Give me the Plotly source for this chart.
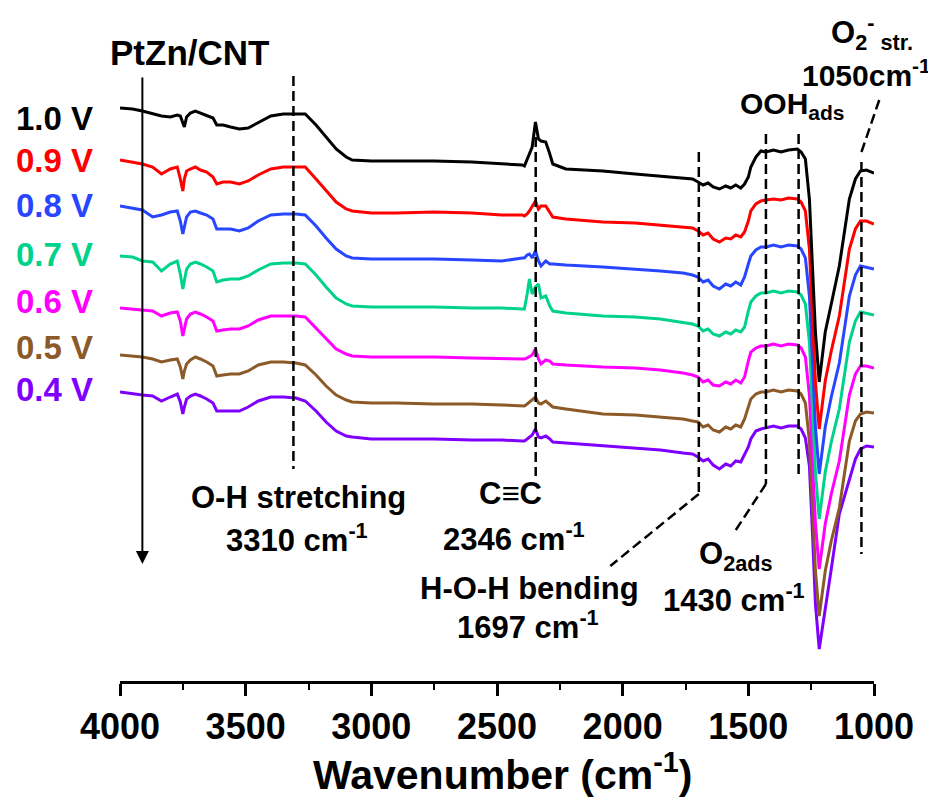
import plotly.graph_objects as go

# Wavenumber grid (cm-1)
wavenumber = [4000, 3950, 3911, 3870, 3835, 3800, 3772, 3760, 3750, 3744,
              3735, 3720, 3700, 3680, 3655, 3630, 3615, 3590, 3560, 3525,
              3490, 3450, 3400, 3350, 3300, 3263, 3220, 3180, 3140, 3100,
              3076, 3000, 2900, 2750, 2600, 2480, 2400, 2391, 2380, 2371,
              2360, 2347, 2335, 2325, 2306, 2290, 2278, 2226, 2079, 1950,
              1850, 1760, 1722, 1700, 1680, 1660, 1640, 1615, 1590, 1570,
              1550, 1530, 1515, 1500, 1490, 1470, 1450, 1430, 1400, 1370,
              1340, 1305, 1290, 1273, 1257, 1245, 1233, 1218, 1194, 1170,
              1138, 1098, 1074, 1054, 1030, 1000]

# Intensities (a.u., offset stacked)
v10 = [591, 590, 588, 585, 583, 582, 584, 583, 576, 572,
       582, 586, 588, 586, 583, 581, 574, 574, 572, 570,
       571, 576, 583, 585, 585, 585, 574, 562, 550, 542,
       539, 538, 538, 538, 537, 535, 534, 533, 540, 545,
       552, 577, 560, 558, 557, 545, 535, 530, 528, 525,
       523, 521, 520, 517, 514, 516, 512, 510, 513, 511,
       514, 511, 515, 522, 532, 542, 548, 547, 549, 547,
       549, 550, 547, 540, 500, 433, 367, 317, 367, 395,
       433, 500, 520, 528, 529, 526]
v09 = [539, 537, 535, 532, 525, 530, 532, 520, 508, 520,
       528, 530, 532, 529, 527, 522, 515, 517, 517, 515,
       518, 524, 530, 532, 532, 532, 520, 508, 497, 490,
       488, 486, 486, 487, 486, 484, 484, 483, 485, 488,
       493, 498, 490, 493, 493, 486, 482, 480, 477, 476,
       474, 472, 471, 468, 464, 466, 460, 457, 461, 460,
       464, 462, 467, 478, 488, 495, 498, 499, 500, 499,
       501, 500, 497, 488, 450, 383, 317, 270, 318, 348,
       383, 450, 470, 478, 478, 475]
v08 = [493, 491, 489, 482, 484, 487, 488, 478, 465, 472,
       482, 487, 488, 486, 484, 480, 470, 470, 470, 468,
       471, 478, 484, 485, 485, 484, 473, 461, 450, 443,
       441, 440, 440, 440, 439, 438, 441, 441, 444, 445,
       441, 448, 438, 433, 438, 435, 435, 434, 432, 430,
       428, 426, 424, 422, 417, 419, 413, 410, 415, 413,
       417, 414, 422, 435, 443, 449, 452, 452, 454, 452,
       454, 453, 450, 441, 403, 338, 272, 225, 272, 302,
       336, 403, 424, 433, 432, 430]
v07 = [443, 442, 438, 437, 428, 435, 438, 425, 410, 420,
       430, 435, 437, 435, 432, 428, 417, 419, 420, 420,
       423, 429, 435, 436, 436, 435, 424, 412, 401, 395,
       393, 392, 392, 392, 391, 391, 390, 390, 405, 420,
       405, 412, 415, 401, 403, 393, 388, 386, 383, 382,
       380, 377, 375, 373, 368, 370, 365, 363, 367, 365,
       369, 367, 372, 388, 397, 403, 406, 406, 408, 406,
       408, 407, 404, 395, 357, 292, 227, 180, 227, 257,
       290, 357, 378, 387, 386, 384]
v06 = [391, 390, 389, 388, 383, 386, 387, 378, 363, 370,
       380, 385, 387, 385, 382, 378, 368, 369, 370, 370,
       373, 379, 383, 383, 383, 382, 371, 360, 350, 345,
       343, 342, 342, 342, 341, 340, 340, 340, 341, 342,
       344, 350, 340, 335, 339, 338, 335, 334, 332, 331,
       329, 326, 324, 322, 317, 319, 314, 313, 317, 315,
       319, 316, 322, 338, 347, 351, 353, 353, 355, 353,
       355, 354, 351, 342, 304, 240, 175, 130, 175, 205,
       238, 304, 325, 333, 333, 331]
v05 = [344, 343, 342, 340, 337, 339, 340, 332, 320, 328,
       335, 339, 342, 340, 337, 333, 323, 324, 325, 325,
       328, 334, 337, 337, 336, 334, 324, 313, 304, 299,
       297, 296, 296, 295, 295, 294, 293, 293, 295, 297,
       299, 302, 296, 295, 298, 295, 292, 290, 285, 284,
       282, 280, 278, 277, 272, 274, 269, 267, 272, 270,
       274, 272, 280, 293, 300, 305, 307, 307, 309, 307,
       309, 308, 305, 296, 258, 193, 128, 83, 128, 158,
       191, 258, 278, 285, 287, 286]
v04 = [307, 305, 304, 303, 298, 302, 305, 297, 285, 292,
       300, 303, 305, 303, 300, 296, 288, 288, 288, 288,
       292, 298, 302, 302, 301, 298, 288, 277, 268, 263,
       262, 260, 260, 260, 259, 259, 258, 258, 260, 262,
       264, 270, 262, 261, 263, 260, 257, 256, 253, 251,
       249, 246, 245, 242, 238, 240, 234, 230, 235, 233,
       238, 237, 245, 252, 260, 268, 270, 271, 273, 271,
       273, 273, 270, 261, 233, 167, 95, 50, 88, 130,
       185, 220, 240, 250, 253, 252]

labels = ["1.0 V", "0.9 V", "0.8 V", "0.7 V", "0.6 V", "0.5 V", "0.4 V"]
colors = ["#000000", "#FF0000", "#2846FF", "#00D28C", "#FF00FF", "#8C5A28", "#8000FF"]
series = [v10, v09, v08, v07, v06, v05, v04]

tick_vals = [4000, 3500, 3000, 2500, 2000, 1500, 1000]
tick_text = ["4000", "3500", "3000", "2500", "2000", "1500", "1000"]
minor_vals = [3750, 3250, 2750, 2250, 1750, 1250]

FONT = "Liberation Sans, Arial, sans-serif"
Y0, Y1 = 18, 691

fig = go.Figure()
for lab, col, ys in reversed(list(zip(labels, colors, series))):
    fig.add_trace(go.Scatter(x=wavenumber, y=ys, mode="lines", name=lab,
                             line=dict(color=col, width=3), showlegend=False))

dash = "10px,5px"
def seg(x0, y0, x1, y1):
    fig.add_shape(type="line", xref="x", yref="y", x0=x0, x1=x1, y0=y0, y1=y1,
                  line=dict(color="black", width=2.5, dash=dash), layer="above")

seg(3310, 623, 3310, 230)
seg(2346, 577, 2346, 223)
seg(1697, 547, 1697, 205)
seg(1697, 205, 2049, 133)
seg(1430, 565, 1430, 215)
seg(1430, 215, 1555, 167)
seg(1300, 565, 1300, 222)
seg(1050, 537, 1050, 145)
# leader for 1050 label (extends just past the axis end)
fig.add_shape(type="line", xref="paper", yref="paper",
              x0=(4000 - 1050) / 3000, y0=(547 - Y0) / (Y1 - Y0),
              x1=(4000 - 975) / 3000, y1=(602 - Y0) / (Y1 - Y0),
              line=dict(color="black", width=2.5, dash=dash), layer="above")

# potential arrow
fig.add_annotation(x=3911, y=135, ax=3911, ay=623, xref="x", yref="y",
                   axref="x", ayref="y", text="", showarrow=True,
                   arrowhead=2, arrowsize=1.3, arrowwidth=2, arrowcolor="black")

DY = -9
def txt(text, px, py, size, color="black", xanchor="center", yanchor="middle"):
    fig.add_annotation(text=text, x=(px - 117.7) / 754,
                       y=min(1.0, (673 - (py + DY)) / 673),
                       xref="paper", yref="paper", showarrow=False,
                       xanchor=xanchor, yanchor=yanchor,
                       font=dict(family=FONT, size=size, color=color))

txt("<b>PtZn/CNT</b>", 187, 54, 35)
label_y = [120, 162, 207, 255, 302, 348, 390]
for lab, col, yy in zip(labels, colors, label_y):
    txt("<b>%s</b>" % lab, 93, yy, 33, col, xanchor="right")

txt("<b>O-H stretching</b>", 296, 498, 31)
txt("<b>3310 cm<sup>-1</sup></b>", 295, 539, 31)
txt("<b>C≡C</b>", 508, 494, 31)
txt("<b>2346 cm<sup>-1</sup></b>", 512, 538, 31)
txt("<b>H-O-H bending</b>", 527, 589, 31)
txt("<b>1697 cm<sup>-1</sup></b>", 526, 626, 31)
txt("<b>O<sub>2ads</sub></b>", 734, 557, 31)
txt("<b>1430 cm<sup>-1</sup></b>", 732, 599, 31)
txt("<b>OOH<sub>ads</sub></b>", 790, 106, 30)
txt("<b>O<sub>2</sub><sup>-</sup><sub> str.</sub></b>", 870, 9, 31, yanchor="top")
txt("<b>1050cm<sup>-1</sup></b>", 864, 74, 30)
txt("<b>Wavenumber (cm<sup>-1</sup>)</b>", 500, 773, 41)

fig.update_layout(
    width=936, height=803,
    margin=dict(l=112, r=70, t=0, b=130),
    paper_bgcolor="white", plot_bgcolor="white",
    font=dict(family=FONT, color="black"),
    xaxis=dict(range=[4000, 1000], showgrid=False, zeroline=False,
               showline=True, linecolor="black", linewidth=2.5,
               ticks="outside", ticklen=12, tickwidth=2.5, tickcolor="black",
               tickmode="array", tickvals=tick_vals, ticktext=tick_text,
               tickfont=dict(family=FONT, size=36, color="black", weight="bold"),
               minor=dict(tickmode="array", tickvals=minor_vals, ticks="outside",
                          ticklen=6, tickwidth=2, tickcolor="black")),
    yaxis=dict(range=[Y0, Y1], visible=False),
)

fig.write_html("out.html")
